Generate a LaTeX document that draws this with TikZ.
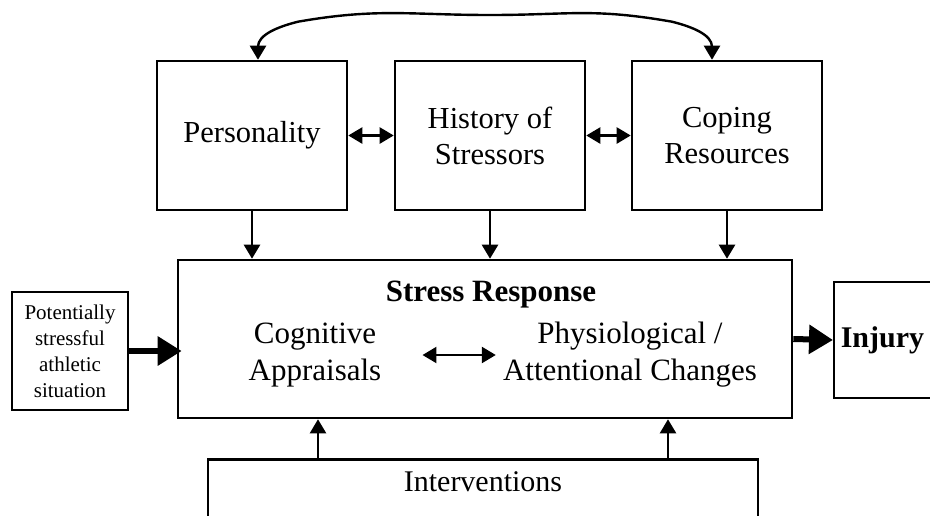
\documentclass[tikz,border=0pt]{standalone}
\usepackage{fontspec}
\setmainfont{Liberation Serif}
\usetikzlibrary{arrows, arrows.meta, positioning}

\begin{document}
\begin{tikzpicture}[x=1pt, y=-1pt, >={Triangle[length=14pt,width=16pt]}, line width=2.4pt]
    \tikzstyle{box}=[shape=rectangle, fill=none, draw=black, text=black, line width=2.6pt, align=center, font=\fontsize{30.5}{36}\selectfont]
    \tikzstyle{txt}=[shape=rectangle, draw=none, inner sep=0pt, align=center, font=\fontsize{31}{37}\selectfont]
    \tikzstyle{thick arrow}=[->, line width=6pt, >={Triangle[length=24pt,width=28pt]}]

    \useasboundingbox (0,0) rectangle (930,515);
    \clip (0,0) rectangle (930,515);

    %top row
    \node[box, minimum width=190pt, minimum height=149pt] (pers) at (252,135.5) {Personality};
    \node[box, minimum width=190pt, minimum height=149pt] (hist) at (490,135.5) {History of\\Stressors};
    \node[box, minimum width=190pt, minimum height=149pt] (cope) at (727,135.5) {Coping\\Resources};

    %middle row
    \node[box, minimum width=614pt, minimum height=158pt] (stress) at (485,339) {};
        \node[txt, font=\fontsize{31}{36}\selectfont\bfseries] (title) at (491,295) {Stress Response};
        \node[txt] (cog) at (315,355) {Cognitive\\Appraisals};
        \node[txt] (phys) at (630,355) {Physiological /\\Attentional Changes};

    \node[box, line width=1.3pt, minimum width=116pt, minimum height=118pt, inner sep=2pt, font=\fontsize{21}{26}\selectfont] (sit) at (70,351) {Potentially\\stressful\\athletic\\situation};
    \node[box, line width=1.5pt, anchor=west, minimum height=116pt, text width=100pt, align=left, inner xsep=7pt, font=\fontsize{30}{34}\selectfont\bfseries] (inj) at (833,340) {Injury};

    %bottom
    \node[box, anchor=north, minimum width=550pt, inner ysep=12pt, text depth=70pt, font=\fontsize{30}{36}\selectfont] (interv) at (483,458) {Interventions};

    \path[->]
    (pers.south)   edge  (pers.south |- stress.north)
    (hist.south)   edge  (hist.south |- stress.north)
    (cope.south)   edge  (cope.south |- stress.north)
    ([xshift=-165pt]interv.north) edge ([xshift=-165pt]interv.north |- stress.south)
    ([xshift=185pt]interv.north)  edge ([xshift=185pt]interv.north |- stress.south)
    ;

    \path[<->]
    (pers)  edge  (hist)
    (hist)  edge  (cope)
    ([xshift=40pt]cog.east) edge ([xshift=-6pt]phys.west)
    ;

    \draw[thick arrow] (sit.east) -- ([xshift=5pt]sit.east -| stress.west);
    \draw[thick arrow] (stress.east) -- (inj.west);

    \draw[<->] ([xshift=6pt]pers.north) -- ++(0,-13)
        .. controls +(0,-12) and +(-20,5) .. ++(40,-25)
        .. controls +(80,-14) and +(-80,0) .. (490,15)
        .. controls +(80,0) and +(-80,-14) .. ([xshift=-55pt,yshift=38pt]cope.north)
        .. controls +(20,5) and +(0,-12) .. ([xshift=-15pt,yshift=13pt]cope.north)
        -- ([xshift=-15pt]cope.north);
\end{tikzpicture}
\end{document}
